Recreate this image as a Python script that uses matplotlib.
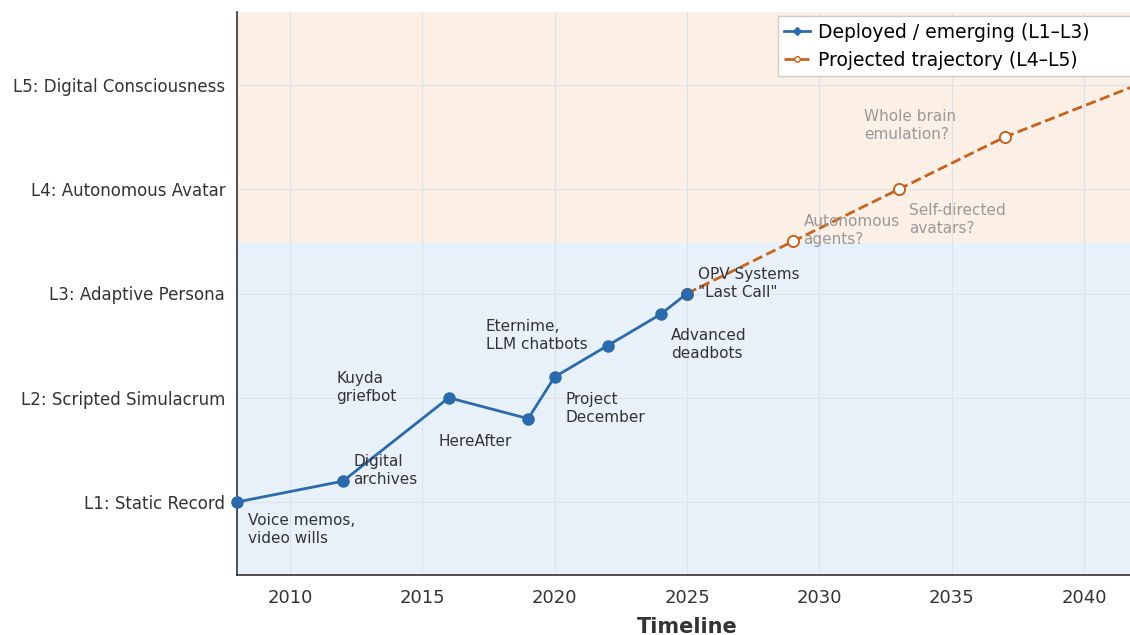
import matplotlib
matplotlib.use("Agg")
import matplotlib.pyplot as plt

level_labels = ["L1: Static Record", "L2: Scripted Simulacrum", "L3: Adaptive Persona",
                "L4: Autonomous Avatar", "L5: Digital Consciousness"]
level_values = [1, 2, 3, 4, 5]

deployed_years = [2008, 2012, 2016, 2019, 2020, 2022, 2024, 2025]
deployed_levels = [1.0, 1.2, 2.0, 1.8, 2.2, 2.5, 2.8, 3.0]

projected_years = [2025, 2029, 2033, 2037, 2042]
projected_levels = [3.0, 3.5, 4.0, 4.5, 5.0]

# (text, x, y) for each milestone label
deployed_notes = [
    ("Voice memos,\nvideo wills", 2008.4, 0.74),
    ("Digital\narchives", 2012.4, 1.30),
    ("Kuyda\ngriefbot", 2011.75, 2.10),
    ("HereAfter", 2015.6, 1.58),
    ("Project\nDecember", 2020.4, 1.90),
    ("Eternime,\nLLM chatbots", 2017.4, 2.60),
    ("Advanced\ndeadbots", 2024.4, 2.51),
    ("OPV Systems\n\"Last Call\"", 2025.4, 3.10),
]
projected_notes = [
    ("Autonomous\nagents?", 2029.4, 3.60),
    ("Self-directed\navatars?", 2033.4, 3.71),
    ("Whole brain\nemulation?", 2031.7, 4.61),
]

blue = "#2a6aad"
orange = "#c8621c"

fig = plt.figure(figsize=(11.3, 6.35), dpi=100)
ax = fig.add_axes([237 / 1130, 60 / 635, 900 / 1130, 563 / 635])

ax.set_xlim(2008, 2042)
ax.set_ylim(0.3, 5.7)
ax.axhspan(0.3, 3.5, color="#e8f1fa", zorder=0)
ax.axhspan(3.5, 5.7, color="#fcefe5", zorder=0)
ax.grid(True, color="#dde3ea", linewidth=0.8, zorder=1)
ax.set_axisbelow(True)

ax.plot(projected_years, projected_levels, color=orange, linestyle="--", linewidth=2,
        marker="o", markersize=8, markerfacecolor="white", markeredgecolor=orange,
        markeredgewidth=1.4, zorder=3, clip_on=True)
ax.plot(deployed_years, deployed_levels, color=blue, linewidth=2, marker="o",
        markersize=8, zorder=4, clip_on=False)

for text, x, y in deployed_notes:
    ax.text(x, y, text, fontsize=11, color="#333333", va="center", ha="left",
            linespacing=1.25, zorder=5)
for text, x, y in projected_notes:
    ax.text(x, y, text, fontsize=11, color="#999999", va="center", ha="left",
            linespacing=1.25, zorder=5)

ax.set_yticks(level_values)
ax.set_yticklabels(level_labels, fontsize=12, color="#333333")
ax.set_xticks(range(2010, 2041, 5))
ax.tick_params(axis="x", labelsize=13, colors="#333333", length=0, pad=10)
ax.tick_params(axis="y", length=0, pad=8.5)
ax.set_xlabel("Timeline", fontsize=15, fontweight="bold", color="#333333", labelpad=7)

for side in ["top", "right"]:
    ax.spines[side].set_visible(False)
for side in ["left", "bottom"]:
    ax.spines[side].set_color("#333333")
    ax.spines[side].set_linewidth(1.2)

handles = [
    plt.Line2D([], [], color=blue, linewidth=2, marker="D", markersize=4),
    plt.Line2D([], [], color=orange, linewidth=2, linestyle="--", marker="o", markersize=4,
               markerfacecolor="white", markeredgecolor=orange),
]
ax.legend(handles, ["Deployed / emerging (L1–L3)", "Projected trajectory (L4–L5)"],
          loc="upper left", bbox_to_anchor=(0.601, 0.993, 0.42, 0.0), mode="expand",
          fontsize=13.5, frameon=True, fancybox=False,
          edgecolor="#cccccc", framealpha=1, handlelength=1.35, handletextpad=0.45,
          borderaxespad=0.0, borderpad=0.35, labelspacing=0.5)

fig.savefig("out.png", dpi=100)
